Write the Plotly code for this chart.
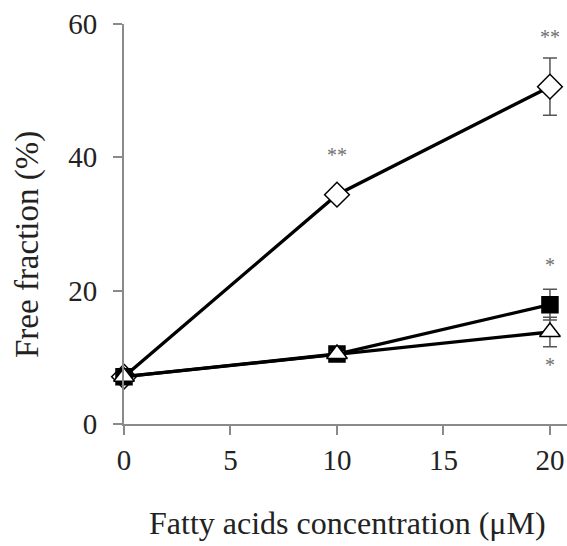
import plotly.graph_objects as go

conc = [0, 10, 20]
diamond_vals = [7.1, 34.4, 50.6]
diamond_err = [0.0, 0.4, 4.3]
square_vals = [7.1, 10.5, 17.9]
square_err = [0.0, 0.3, 2.3]
triangle_vals = [7.1, 10.5, 13.8]
triangle_err = [0.0, 0.3, 2.2]

sig_x = [10, 20, 20, 20]
sig_y = [40.0, 57.7, 23.5, 8.5]
sig_text = ["**", "**", "*", "*"]

x_ticks = [0, 5, 10, 15, 20]
y_ticks = [0, 20, 40, 60]

FONT = "Liberation Serif, Times New Roman, serif"
AX = "#8a8a8a"

W, H = 567, 546
ML, MR, MT, MB = 124, 0, 24, 122

fig = go.Figure()

def add(vals, err, symbol, fill, size):
    fig.add_trace(go.Scatter(
        x=conc, y=vals, mode="lines+markers",
        line=dict(color="black", width=3.3),
        marker=dict(symbol=symbol, size=size, color=fill,
                    line=dict(color="black", width=1.5)),
        error_y=dict(type="data", array=err, color="#555555", thickness=1.5, width=7),
        cliponaxis=False, showlegend=False))

add(diamond_vals, diamond_err, "diamond", "white", 19)
add(square_vals, square_err, "square", "black", 16)
add(triangle_vals, triangle_err, "triangle-up", "white", 18)

fig.add_trace(go.Scatter(
    x=sig_x, y=sig_y, mode="text", text=sig_text,
    textfont=dict(family=FONT, size=20, color="#707070"),
    textposition="middle center", cliponaxis=False, showlegend=False))

pw, ph = W - ML - MR, H - MT - MB
def to_paper(px, py):
    return (px - ML) / pw, (H - MB - py) / ph

xa, ya = to_paper(347, 523)
xb, yb = to_paper(27, 245)

fig.update_layout(
    width=W, height=H,
    margin=dict(l=ML, r=MR, t=MT, b=MB, pad=0),
    plot_bgcolor="white", paper_bgcolor="white",
    font=dict(family=FONT, size=29, color="#222222"),
    xaxis=dict(range=[0, 20.8], tickvals=x_ticks, ticks="outside", ticklen=9,
               tickwidth=1.5, tickcolor=AX, showline=True, linecolor=AX, linewidth=2,
               showgrid=False, zeroline=False, tickfont=dict(size=29)),
    yaxis=dict(range=[0, 60], tickvals=y_ticks, ticks="outside", ticklen=9,
               tickwidth=1.5, tickcolor=AX, showline=True, linecolor=AX, linewidth=2,
               showgrid=False, zeroline=False, tickfont=dict(size=29),
               ticklabelstandoff=10),
    annotations=[
        dict(text="Fatty acids concentration (μM)", x=xa, y=ya, xref="paper", yref="paper",
             xanchor="center", yanchor="middle", showarrow=False, font=dict(size=32)),
        dict(text="Free fraction (%)", textangle=-90, x=xb, y=yb, xref="paper", yref="paper",
             xanchor="center", yanchor="middle", showarrow=False, font=dict(size=33)),
    ],
)

fig.write_html(
    "out.html",
    config={"displayModeBar": False},
    post_script="document.body.style.margin='0';document.body.style.overflow='hidden';",
)
